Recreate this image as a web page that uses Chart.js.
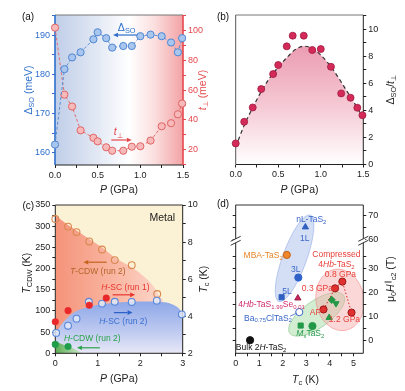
<!DOCTYPE html>
<html>
<head>
<meta charset="utf-8">
<script src="https://cdn.jsdelivr.net/npm/chart.js@4.4.0/dist/chart.umd.min.js"></script>
<style>
  html, body { margin: 0; padding: 0; background: #fff; width: 405px; height: 391px; overflow: hidden; }
  canvas { position: absolute; left: 0; top: 0; }
</style>
</head>
<body>
<canvas id="ca" width="405" height="391"></canvas>
<canvas id="cb" width="405" height="391"></canvas>
<canvas id="cc" width="405" height="391"></canvas>
<canvas id="cd" width="405" height="391"></canvas>
<script>
const FONT = '"Liberation Sans", Arial, Helvetica, sans-serif';
const W = 405, H = 391;

// ---- (a) spin-orbit gap and interlayer hopping vs pressure
const pA = [0, 0.11, 0.2, 0.3, 0.45, 0.5, 0.6, 0.67, 0.8, 0.9, 1.0, 1.12, 1.25, 1.36, 1.44, 1.49];
const deltaSO = [162.1, 181.3, 184.3, 185.6, 188.9, 190.7, 189.2, 186.8, 187.2, 187.2, 189.7, 190.1, 189.7, 188.1, 185.6, 189.2];
const tPerp = [102, 57, 49, 33, 28, 25.6, 21.6, 19.3, 19.3, 22, 22.3, 26.1, 35.7, 37.8, 43.8, 51];
const aLeftTicks = [160, 165, 170, 175, 180, 185, 190, 195];
const aLeftLabels = [160, 170, 180, 190];
const aRightTicks = [10, 20, 30, 40, 50, 60, 70, 80, 90, 100, 110];
const aRightLabels = [20, 40, 60, 80, 100];
const pTicks = [0, 0.25, 0.5, 0.75, 1, 1.25, 1.5];
const pLabels = [0, 0.5, 1, 1.5];

// ---- (b) ratio
const pB = [0, 0.1, 0.2, 0.3, 0.44, 0.5, 0.6, 0.67, 0.8, 0.9, 1.0, 1.12, 1.24, 1.35, 1.43, 1.49];
const ratio = [1.56, 3.16, 4.22, 5.58, 6.69, 7.36, 8.74, 9.53, 9.53, 8.47, 8.54, 7.23, 5.26, 4.94, 4.2, 3.65];
const fitP = [0, 0.1, 0.2, 0.3, 0.4, 0.5, 0.6, 0.7, 0.8, 0.9, 1.0, 1.1, 1.2, 1.3, 1.4, 1.5];
const fitRatio = [1.3, 2.9, 4.2, 5.4, 6.4, 7.2, 7.9, 8.5, 8.75, 8.6, 8.1, 7.4, 6.5, 5.5, 4.5, 3.4];
const bTicks = [0, 1, 2, 3, 4, 5, 6, 7, 8, 9, 10, 11];
const bLabels = [0, 2, 4, 6, 8, 10];

// ---- (c) phase diagram
const pCdw = [0, 0.3, 0.5, 0.8, 1.1, 1.4, 1.8, 2.4];
const tCdw = [317, 299, 286, 264, 245, 220, 208, 140];
const pSc2 = [0.02, 0.3, 0.5, 0.79, 1.1, 1.4, 1.8, 2.39, 2.98];
const tcSc2 = [3.1, 3.49, 3.87, 4.78, 4.68, 4.78, 4.77, 4.84, 4.1];
const pSc1 = [0, 0.3, 0.8, 1.2];
const tcSc1 = [3.7, 4.3, 4.59, 4.98];
const pHcdw = [0, 0.3];
const tHcdw = [21, 16];
const cdwEdgeP = [0, 0.3, 0.5, 0.8, 1.1, 1.4, 1.8, 2.1, 2.3, 2.45, 2.55, 2.6, 2.62];
const cdwEdgeT = [325, 303, 290, 270, 250, 226, 203, 180, 160, 135, 115, 60, 0];
const scEdgeP = [0, 0.1, 0.2, 0.35, 0.5, 0.8, 1.1, 1.5, 2.0, 2.5, 2.75, 2.9, 3.0];
const scEdgeT = [46, 62, 75, 90, 100, 110, 116, 120, 122, 121, 116, 107, 95];
const hcdwEdgeP = [0, 0.15, 0.3, 0.5, 0.65];
const hcdwEdgeT = [28, 22, 16, 8, 0];
const cXTicks = [0, 0.5, 1, 1.5, 2, 2.5, 3];
const cXLabels = [0, 1, 2, 3];
const cLeftTicks = [0, 25, 50, 75, 100, 125, 150, 175, 200, 225, 250, 275, 300, 325, 350];
const cLeftLabels = [0, 50, 100, 150, 200, 250, 300, 350];
const cRightTicks = [2, 3, 4, 5, 6, 7, 8, 9, 10];
const cRightLabels = [2, 4, 6, 8, 10];

// ---- (d) upper critical field vs Tc
const tcNL = [2.96], hNL = [65.3];
const tcMBA = [2.17], hMBA = [35.7];
const tc3L = [2.66], h3L = [26.3];
const tc5L = [1.95], h5L = [18.1];
const tcSe = [2.64], hSe = [17.7];
const tcBa = [2.7], hBa = [11.9];
const tcMxSq = [2.76], hMxSq = [6.3];
const tcMxCi = [3.26], hMxCi = [6.1];
const tcGrTri = [3.97], hGrTri = [9.6];
const tcGrDia = [4.08], hGrDia = [17.0];
const tcGrInv = [4.26], hGrInv = [15.5];
const tcBulk = [0.61], hBulk = [0.2];
const tcComp = [3.73, 4.22, 4.53, 4.92];
const hComp = [13.0, 21.8, 24.6, 11.7];
const dXTicks = [0, 0.5, 1, 1.5, 2, 2.5, 3, 3.5, 4, 4.5, 5];
const dXLabels = [0, 1, 2, 3, 4, 5];
const dYTicks = [0, 5, 10, 15, 20, 25, 30, 35, 60, 65, 70];
const dYLabels = [0, 10, 20, 30, 60, 70];

// axis break on the field axis: 41..59 T is cut out
const hDisp = v => (v > 50 ? v - 18 : v);
const hReal = v => (v > 41.5 ? v + 18 : v);
const xy = (xs, ys, f = v => v) => xs.map((x, i) => ({x, y: f(ys[i])}));

function rich(ctx, parts, x, y, size, color, align = 'center', rot = 0) {
  ctx.save();
  ctx.translate(x, y);
  ctx.rotate(rot);
  const segs = parts.map(([t, s = '']) => {
    const st = s.split(' ');
    const sub = st.includes('sub'), sup = st.includes('sup');
    const fs = sub || sup ? size * 0.7 : size;
    const font = (st.includes('i') ? 'italic ' : '') + fs + 'px ' + FONT;
    ctx.font = font;
    return {t, font, w: ctx.measureText(t).width, dy: sub ? size * 0.28 : sup ? -size * 0.35 : 0};
  });
  const total = segs.reduce((a, s) => a + s.w, 0);
  let cx = align === 'center' ? -total / 2 : align === 'right' ? -total : 0;
  ctx.fillStyle = color;
  ctx.textBaseline = 'middle';
  ctx.textAlign = 'left';
  for (const s of segs) {
    ctx.font = s.font;
    ctx.fillText(s.t, cx, s.dy);
    cx += s.w;
  }
  ctx.restore();
}

function arrow(ctx, x1, y1, x2, y2, color) {
  const a = Math.atan2(y2 - y1, x2 - x1), h = 5, w = 2.3;
  const bx = x2 - h * Math.cos(a), by = y2 - h * Math.sin(a);
  ctx.save();
  ctx.strokeStyle = color; ctx.fillStyle = color; ctx.lineWidth = 1.2;
  ctx.beginPath(); ctx.moveTo(x1, y1); ctx.lineTo(bx, by); ctx.stroke();
  ctx.beginPath();
  ctx.moveTo(x2, y2);
  ctx.lineTo(bx + w * Math.sin(a), by - w * Math.cos(a));
  ctx.lineTo(bx - w * Math.sin(a), by + w * Math.cos(a));
  ctx.closePath(); ctx.fill();
  ctx.restore();
}

function ax(pos, min, max, ticks, labels, fmt, size, color = '#222', show = true) {
  return {
    type: 'linear', position: pos, min, max,
    afterFit: s => { if (pos === 'bottom') s.height = size; else s.width = size; },
    afterBuildTicks: s => { s.ticks = ticks.map(v => ({value: v})); },
    grid: {drawOnChartArea: false, drawTicks: true, tickLength: 3, color, lineWidth: 1},
    border: {display: false},
    ticks: {
      display: show, color, font: {family: FONT, size: 9}, padding: 2,
      autoSkip: false, maxRotation: 0, minRotation: 0,
      callback: v => (labels.includes(v) ? fmt(v) : '')
    }
  };
}

function deco(spec) {
  return {
    id: 'deco',
    beforeDraw(chart) {
      if (!spec.bg) return;
      const {ctx, chartArea: a} = chart;
      ctx.save(); spec.bg(ctx, a, chart); ctx.restore();
    },
    beforeDatasetsDraw(chart) {
      const {ctx, chartArea: a} = chart;
      if (spec.under) { ctx.save(); spec.under(ctx, a, chart); ctx.restore(); }
      const f = spec.frame;
      const side = (c, x1, y1, x2, y2) => {
        ctx.save(); ctx.strokeStyle = c[0]; ctx.lineWidth = c[1];
        ctx.beginPath(); ctx.moveTo(x1, y1); ctx.lineTo(x2, y2); ctx.stroke(); ctx.restore();
      };
      side(f.top, a.left, a.top, a.right, a.top);
      side(f.bottom, a.left, a.bottom, a.right, a.bottom);
      side(f.left, a.left, a.top, a.left, a.bottom);
      side(f.right, a.right, a.top, a.right, a.bottom);
    },
    afterDraw(chart) {
      const {ctx, chartArea: a} = chart;
      ctx.save(); spec.over(ctx, a, chart); ctx.restore();
    }
  };
}

function panel(id, datasets, scales, pad, spec) {
  return new Chart(document.getElementById(id), {
    type: 'scatter',
    data: {datasets},
    options: {
      responsive: false, animation: false, devicePixelRatio: 1, events: [],
      layout: {padding: pad},
      plugins: {legend: {display: false}, tooltip: {enabled: false}, filler: {drawTime: 'beforeDatasetsDraw'}},
      scales
    },
    plugins: [deco(spec)]
  });
}

const BLUE = '#2f6fcb', RED = '#e5484d';
const fmt1 = v => v.toFixed(1), fmt0 = v => String(v);
const ROT = -Math.PI / 2;

// ---------------- (a)
panel('ca', [
  {data: xy(pA, deltaSO), yAxisID: 'y', showLine: true, borderColor: '#5a8fd8', borderWidth: 1, borderDash: [3, 2],
   pointRadius: 3.6, pointBackgroundColor: '#a9c7ee', pointBorderColor: '#4f86d2', pointBorderWidth: 1, clip: false},
  {data: xy(pA, tPerp), yAxisID: 'y1', showLine: true, borderColor: '#e36f6f', borderWidth: 1, borderDash: [3, 2],
   pointRadius: 3.6, pointBackgroundColor: '#f7b9b9', pointBorderColor: '#e06666', pointBorderWidth: 1, clip: false}
], {
  x: ax('bottom', 0, 1.5, pTicks, pLabels, fmt1, 30),
  y: ax('left', 156.9, 195.1, aLeftTicks, aLeftLabels, fmt0, 55, BLUE),
  y1: ax('right', 9.7, 110.5, aRightTicks, aRightLabels, fmt0, 22, RED)
}, {left: 0, top: 15, right: W - 183 - 22, bottom: H - 165 - 30}, {
  frame: {top: ['#777', 1], bottom: ['#222', 1], left: [BLUE, 1.6], right: [RED, 1.6]},
  bg(ctx, a) {
    const g = ctx.createLinearGradient(a.left, 0, a.right, 0);
    g.addColorStop(0, '#c0cee8');
    g.addColorStop(0.3, '#dfe6f3');
    g.addColorStop(0.58, '#ffffff');
    g.addColorStop(0.78, '#fbdede');
    g.addColorStop(1, '#f3a2a5');
    ctx.fillStyle = g; ctx.fillRect(a.left, a.top, a.width, a.height);
  },
  over(ctx, a, ch) {
    const x = v => ch.scales.x.getPixelForValue(v);
    const yl = v => ch.scales.y.getPixelForValue(v);
    const yr = v => ch.scales.y1.getPixelForValue(v);
    rich(ctx, [['Δ'], ['SO', 'sub']], x(0.84), yl(191.8), 10.5, BLUE);
    arrow(ctx, x(0.96), yl(190), x(0.68), yl(190), BLUE);
    rich(ctx, [['t', 'i'], ['⊥', 'sub']], x(0.74), yr(31.5), 10.5, RED);
    arrow(ctx, x(0.66), yr(26.5), x(0.9), yr(26.5), RED);
    const cy = (a.top + a.bottom) / 2;
    rich(ctx, [['Δ'], ['SO', 'sub'], [' (meV)']], a.left - 26, cy, 10.5, BLUE, 'center', ROT);
    rich(ctx, [['t', 'i'], ['⊥', 'sub'], [' (meV)']], a.right + 20, cy, 10.5, RED, 'center', ROT);
    rich(ctx, [['P', 'i'], [' (GPa)']], (a.left + a.right) / 2, a.bottom + 25, 10.5, '#222');
    rich(ctx, [['(a)']], a.left - 27, a.top + 2, 10, '#111');
  }
});

// ---------------- (b)
panel('cb', [
  {data: xy(pB, ratio), order: 0, pointRadius: 3.5, pointBackgroundColor: '#d42a5a', pointBorderColor: '#9e1a3e',
   pointBorderWidth: 0.8, clip: false},
  {data: xy(fitP, fitRatio), order: 1, showLine: true, borderColor: '#333', borderWidth: 1.2, borderDash: [4, 3],
   pointRadius: 0, cubicInterpolationMode: 'monotone', fill: 'origin',
   backgroundColor: c => {
     const ch = c.chart;
     if (!ch.chartArea) return 'transparent';
     const y = ch.scales.y;
     const g = ch.ctx.createLinearGradient(0, y.getPixelForValue(8.8), 0, y.getPixelForValue(0));
     g.addColorStop(0, '#eb9cb2');
     g.addColorStop(0.5, '#f5c8d4');
     g.addColorStop(1, '#ffffff');
     return g;
   }}
], {
  x: ax('bottom', 0, 1.5, pTicks, pLabels, fmt1, 30),
  y: ax('right', 0, 11.06, bTicks, bLabels, fmt0, 20)
}, {left: 235.7, top: 15, right: W - 363.3 - 20, bottom: H - 164.5 - 30}, {
  frame: {top: ['#777', 1], bottom: ['#222', 1], left: ['#555', 1], right: ['#222', 1]},
  over(ctx, a) {
    const cy = (a.top + a.bottom) / 2;
    rich(ctx, [['Δ'], ['SO', 'sub'], ['/'], ['t', 'i'], ['⊥', 'sub']], a.right + 28, cy, 10.5, '#222', 'center', ROT);
    rich(ctx, [['P', 'i'], [' (GPa)']], (a.left + a.right) / 2, a.bottom + 25.5, 10.5, '#222');
    rich(ctx, [['(b)']], a.left - 12.7, a.top + 2, 10, '#111');
  }
});

// ---------------- (c)
const edge = {showLine: true, borderWidth: 0, borderColor: 'rgba(0,0,0,0)', pointRadius: 0,
  cubicInterpolationMode: 'monotone', fill: 'origin', yAxisID: 'y'};
panel('cc', [
  {...edge, data: xy(cdwEdgeP, cdwEdgeT), order: 12,
   backgroundColor: c => {
     const ch = c.chart;
     if (!ch.chartArea) return 'transparent';
     const x = ch.scales.x;
     const g = ch.ctx.createLinearGradient(x.getPixelForValue(0), 0, x.getPixelForValue(2.6), 0);
     g.addColorStop(0, '#f5937a'); g.addColorStop(0.5, '#f9b49f'); g.addColorStop(1, '#fcd9cd');
     return g;
   }},
  {...edge, data: xy(scEdgeP, scEdgeT), order: 11,
   backgroundColor: c => {
     const ch = c.chart;
     if (!ch.chartArea) return 'transparent';
     const y = ch.scales.y;
     const g = ch.ctx.createLinearGradient(0, y.getPixelForValue(122), 0, y.getPixelForValue(0));
     g.addColorStop(0, '#8ea8e8'); g.addColorStop(0.55, '#bcc8f0'); g.addColorStop(1, '#e8e8f7');
     return g;
   }},
  {...edge, data: xy(hcdwEdgeP, hcdwEdgeT), order: 10,
   backgroundColor: c => {
     const ch = c.chart;
     if (!ch.chartArea) return 'transparent';
     const x = ch.scales.x;
     const g = ch.ctx.createLinearGradient(x.getPixelForValue(0), 0, x.getPixelForValue(0.65), 0);
     g.addColorStop(0, '#58ad52'); g.addColorStop(1, '#d6ebd2');
     return g;
   }},
  {data: xy(pCdw, tCdw), yAxisID: 'y', order: 3, pointRadius: 3.4, pointBackgroundColor: 'rgba(255,255,255,0)',
   pointBorderColor: '#d9884e', pointBorderWidth: 1.1, clip: false},
  {data: xy(pSc2, tcSc2), yAxisID: 'y1', order: 2, pointRadius: 3.4, pointBackgroundColor: 'rgba(225,233,248,0.85)',
   pointBorderColor: '#5a86d8', pointBorderWidth: 1.1, clip: false},
  {data: xy(pSc1, tcSc1), yAxisID: 'y1', order: 1, pointRadius: 3.3, pointBackgroundColor: '#e8282a',
   pointBorderColor: '#e8282a', pointBorderWidth: 0.5, clip: false},
  {data: xy(pHcdw, tHcdw), yAxisID: 'y', order: 0, pointRadius: 3.3, pointBackgroundColor: '#1f9e4a',
   pointBorderColor: '#1f9e4a', pointBorderWidth: 0.5, clip: false}
], {
  x: ax('bottom', 0, 3, cXTicks, cXLabels, fmt0, 30),
  y: ax('left', 0, 350, cLeftTicks, cLeftLabels, fmt0, 55),
  y1: ax('right', 2, 10, cRightTicks, cRightLabels, fmt0, 20)
}, {left: 0.3, top: 205, right: W - 182.7 - 20, bottom: H - 353.3 - 30}, {
  frame: {top: ['#333', 1], bottom: ['#222', 1], left: ['#222', 1], right: ['#222', 1]},
  bg(ctx, a) { ctx.fillStyle = '#fbf1d4'; ctx.fillRect(a.left, a.top, a.width, a.height); },
  over(ctx, a, ch) {
    const x = v => ch.scales.x.getPixelForValue(v);
    const y = v => ch.scales.y.getPixelForValue(v);
    rich(ctx, [['Metal']], x(2.52), y(319), 10.5, '#222');
    arrow(ctx, x(1.21), y(215), x(0.66), y(215), '#c4621c');
    rich(ctx, [['T', 'i'], ['-CDW (run 2)']], x(1.0), y(193), 8.5, '#b5652a');
    rich(ctx, [['H', 'i'], ['-SC (run 1)']], x(1.65), y(154), 8.5, '#e8352d');
    arrow(ctx, x(1.35), y(138), x(1.88), y(138), '#e8352d');
    arrow(ctx, x(1.38), y(96), x(1.82), y(96), '#2d62c8');
    rich(ctx, [['H', 'i'], ['-SC (run 2)']], x(1.6), y(74), 8.5, '#3a6fd0');
    rich(ctx, [['H', 'i'], ['-CDW (run 2)']], x(0.87), y(35), 8.5, '#2aa24a');
    arrow(ctx, x(1.05), y(13), x(0.51), y(13), '#2aa24a');
    const cy = (a.top + a.bottom) / 2;
    rich(ctx, [['T', 'i'], ['CDW', 'sub'], [' (K)']], a.left - 28, cy - 6, 10.5, '#222', 'center', ROT);
    rich(ctx, [['T', 'i'], ['c', 'sub'], [' (K)']], a.right + 21, cy, 10.5, '#222', 'center', ROT);
    rich(ctx, [['P', 'i'], [' (GPa)']], (a.left + a.right) / 2, a.bottom + 25.7, 10.5, '#222');
    rich(ctx, [['(c)']], a.left - 27, a.top + 1, 10, '#111');
  }
});

// ---------------- (d)
const mk = (xs, ys, style, bg, bd, extra = {}) => ({
  data: xy(xs, ys, hDisp), pointStyle: style, pointRadius: 3.6, pointBackgroundColor: bg,
  pointBorderColor: bd, pointBorderWidth: 1, clip: false, ...extra
});
const dEllipses = [
  {x: 2.5, y: 34.3, rx: 46, ry: 12, rot: -70, fill: 'rgba(160,185,236,0.45)', line: 'rgba(120,150,220,0.55)'},
  {x: 3.44, y: 11.0, rx: 33, ry: 13.5, rot: -35, fill: 'rgba(155,214,155,0.45)', line: 'rgba(100,180,100,0.55)'},
  {x: 4.43, y: 17.0, rx: 31, ry: 24, rot: 80, fill: 'rgba(246,168,166,0.45)', line: 'rgba(235,110,110,0.55)'}
];
panel('cd', [
  mk(tcComp, hComp, 'circle', '#e0302f', '#9a1a1a', {showLine: true, borderColor: '#d82a2a', borderWidth: 1, borderDash: [1.5, 2]}),
  mk(tcNL, hNL, 'triangle', '#2f5fc0', '#2f5fc0'),
  mk(tcMBA, hMBA, 'circle', '#f0882a', '#c0601a'),
  mk(tc3L, h3L, 'circle', '#2f62c8', '#2f62c8'),
  mk(tc5L, h5L, 'rect', '#2f5fc0', '#2f5fc0'),
  mk(tcSe, hSe, 'triangle', '#c8285a', '#a01e48'),
  mk(tcBa, hBa, 'circle', '#ffffff', '#3a66c8'),
  mk(tcMxSq, hMxSq, 'rect', '#229848', '#229848'),
  mk(tcMxCi, hMxCi, 'circle', '#229848', '#229848'),
  mk(tcGrTri, hGrTri, 'triangle', '#229848', '#229848'),
  mk(tcGrDia, hGrDia, 'rectRot', '#229848', '#229848'),
  mk(tcGrInv, hGrInv, 'triangle', '#229848', '#229848', {pointRotation: 180}),
  mk(tcBulk, hBulk, 'circle', '#111', '#111')
], {
  x: ax('bottom', 0, 5.42, dXTicks, dXLabels, fmt0, 30),
  y: {...ax('right', -5.25, 56.5, dYTicks.map(hDisp), [], fmt0, 20),
      ticks: {color: '#222', font: {family: FONT, size: 9}, padding: 2, autoSkip: false, maxRotation: 0,
              callback: v => (dYLabels.includes(hReal(v)) ? String(hReal(v)) : '')}},
  yl: ax('left', -5.25, 56.5, dYTicks.map(hDisp), [], fmt0, 10, '#222', false)
}, {left: 235.7 - 10, top: 205, right: W - 363.3 - 20, bottom: H - 353.3 - 30}, {
  frame: {top: ['#333', 1], bottom: ['#222', 1], left: ['#222', 1], right: ['#222', 1]},
  under(ctx, a, ch) {
    const x = v => ch.scales.x.getPixelForValue(v);
    const y = v => ch.scales.y.getPixelForValue(v);
    ctx.beginPath(); ctx.rect(a.left, a.top, a.width, a.height); ctx.clip();
    for (const e of dEllipses) {
      ctx.beginPath();
      ctx.ellipse(x(e.x), y(e.y), e.rx, e.ry, e.rot * Math.PI / 180, 0, Math.PI * 2);
      ctx.fillStyle = e.fill; ctx.fill();
      ctx.strokeStyle = e.line; ctx.lineWidth = 0.8; ctx.stroke();
    }
  },
  over(ctx, a, ch) {
    const x = v => ch.scales.x.getPixelForValue(v);
    const y = v => ch.scales.y.getPixelForValue(v);
    const DB = '#3a66c8', DR = '#e8403a', DG = '#229848';
    const s = 8.5;
    rich(ctx, [['nL-TaS'], ['2', 'sub']], x(3.21), y(50.3), s, DB);
    rich(ctx, [['1L']], x(2.93), y(42.6), s, DB);
    rich(ctx, [['MBA-TaS'], ['2', 'sub']], x(2.0), y(35.2), s, '#e8862a', 'right');
    rich(ctx, [['3L']], x(2.55), y(29.4), s, DB);
    rich(ctx, [['5L']], x(2.18), y(20.4), s, DB);
    rich(ctx, [['Compressed']], x(4.28), y(35.7), s, DR);
    rich(ctx, [['4'], ['Hb', 'i'], ['-TaS'], ['2', 'sub']], x(4.28), y(31.5), s, DR);
    rich(ctx, [['0.8 GPa']], x(4.45), y(27.4), s, DR);
    rich(ctx, [['0.3 GPa']], x(3.47), y(21.8), s, DR);
    rich(ctx, [['AP']], x(3.39), y(11.6), s, DR);
    rich(ctx, [['1.2 GPa']], x(4.62), y(8.8), s, DR);
    rich(ctx, [['4'], ['Hb', 'i'], ['-TaS'], ['1.99', 'sub'], ['Se'], ['0.01', 'sub']], x(1.52), y(14.9), s, '#d02a6a');
    rich(ctx, [['Ba'], ['0.75', 'sub'], ['ClTaS'], ['2', 'sub']], x(1.37), y(9.3), s, DB);
    ctx.strokeStyle = DB; ctx.lineWidth = 0.8;
    ctx.beginPath(); ctx.moveTo(x(2.31), y(10.2)); ctx.lineTo(x(2.6), y(11.5)); ctx.stroke();
    rich(ctx, [['M', 'i'], ['x', 'sub'], ['TaS'], ['2', 'sub']], x(3.17), y(2.9), s, DG);
    rich(ctx, [['Bulk 2'], ['H', 'i'], ['-TaS'], ['2', 'sub']], x(1.08), y(-3.1), s, '#111');
    // axis break marks
    const yb = y(41.6);
    for (const xb of [a.left, a.right]) {
      ctx.fillStyle = '#fff'; ctx.fillRect(xb - 2, yb - 2, 4, 4);
      ctx.strokeStyle = '#333'; ctx.lineWidth = 1;
      for (const dy of [-2, 2]) {
        ctx.beginPath(); ctx.moveTo(xb - 5, yb + dy + 2.5); ctx.lineTo(xb + 5, yb + dy - 2.5); ctx.stroke();
      }
    }
    const cy = (a.top + a.bottom) / 2;
    rich(ctx, [['μ'], ['0', 'sub'], ['H', 'i'], ['∥', 'sup'], ['c2', 'sub'], [' (T)']], a.right + 28, cy, 10.5, '#222', 'center', ROT);
    rich(ctx, [['T', 'i'], ['c', 'sub'], [' (K)']], (a.left + a.right) / 2 + 6, a.bottom + 27, 10.5, '#222');
    rich(ctx, [['(d)']], a.left - 12.7, a.top - 1, 10, '#111');
  }
});
</script>
</body>
</html>
